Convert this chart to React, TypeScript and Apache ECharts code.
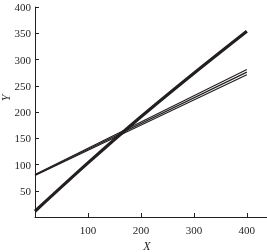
import React, { useEffect, useRef } from "react";
import * as echarts from "echarts";

const xTicks = [0, 100, 200, 300, 400];
const steepLine: [number, number][] = [[0, 11], [100, 103], [200, 191], [300, 274], [400, 354]];
const shallowTop: [number, number][] = [[0, 81], [400, 281]];
const shallowMid: [number, number][] = [[0, 80], [400, 276]];
const shallowLow: [number, number][] = [[0, 79], [400, 271]];

const INK = "#231f20";
const FONT = "Liberation Serif";

export default function App() {
  const ref = useRef<HTMLDivElement>(null);
  useEffect(() => {
    if (!ref.current) return;
    const chart = echarts.init(ref.current, undefined, { renderer: "svg" });
    const thin = (data: [number, number][]) => ({
      type: "line",
      data,
      showSymbol: false,
      lineStyle: { color: INK, width: 1.2 },
    });
    chart.setOption({
      animation: false,
      grid: {
        left: 35,
        top: 7,
        right: 0,
        bottom: 35,
        containLabel: false,
        outerBoundsMode: "none",
      },
      graphic: [
        {
          type: "text",
          x: 6,
          y: 98,
          rotation: Math.PI / 2,
          style: {
            text: "Y",
            fontFamily: FONT,
            fontStyle: "italic",
            fontSize: 12,
            fill: INK,
            align: "center",
            verticalAlign: "middle",
          },
        },
      ],
      xAxis: {
        type: "value",
        min: 0,
        max: 438,
        interval: 100,
        name: "X",
        nameLocation: "middle",
        nameGap: 20,
        nameTextStyle: { fontFamily: FONT, fontStyle: "italic", fontSize: 12, color: INK, padding: [0, 8, 0, 0] },
        axisLine: { lineStyle: { color: INK, width: 1 } },
        axisTick: { inside: true, length: 4, lineStyle: { color: INK } },
        splitLine: { show: false },
        axisLabel: {
          fontFamily: FONT,
          fontSize: 11,
          color: INK,
          margin: 7,
          showMaxLabel: false,
          formatter: (v: number) => (v === 0 || !xTicks.includes(v) ? "" : String(v)),
        },
      },
      yAxis: {
        type: "value",
        min: 0,
        max: 400,
        interval: 50,
        axisLine: { show: true, lineStyle: { color: INK, width: 1 } },
        axisTick: { show: true, inside: true, length: 4, lineStyle: { color: INK } },
        splitLine: { show: false },
        axisLabel: {
          fontFamily: FONT,
          fontSize: 11,
          color: INK,
          margin: 4,
          formatter: (v: number) => (v === 0 ? "" : String(v)),
        },
      },
      series: [
        thin(shallowTop),
        thin(shallowMid),
        thin(shallowLow),
        {
          type: "line",
          data: steepLine,
          showSymbol: false,
          smooth: 0.3,
          lineStyle: { color: INK, width: 3.2 },
        },
      ],
    });
    return () => chart.dispose();
  }, []);
  return (
    <div
      ref={ref}
      style={{ position: "fixed", left: 0, top: 0, width: 267, height: 252 }}
    />
  );
}
